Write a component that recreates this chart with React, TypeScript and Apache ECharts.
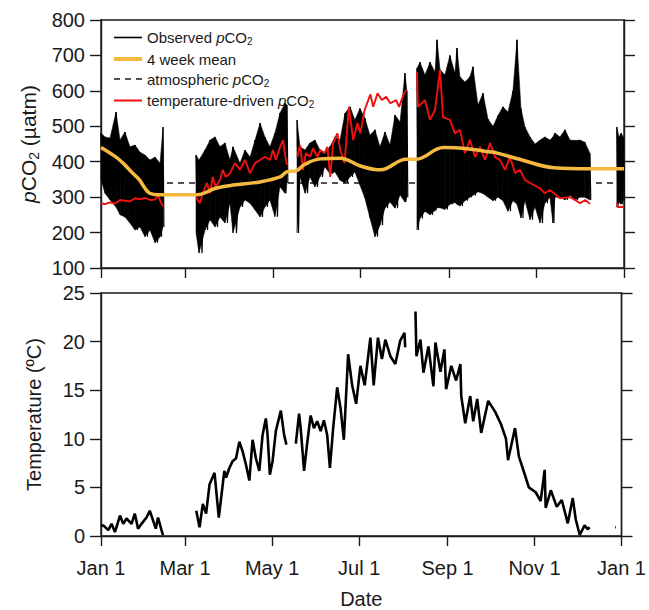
import React, { useEffect, useRef } from 'react';
import * as echarts from 'echarts';

// x axis: day of year
const tickDays = [0, 59, 120, 181, 243, 304, 365];
const tickLabels = ['Jan 1', 'Mar 1', 'May 1', 'Jul 1', 'Sep 1', 'Nov 1', 'Jan 1'];

// observed pCO2 envelope (high / low of the fluctuations), null = no data
const obsDay = [0, 2.8, 6.3, 10.5, 13.3, 16.7, 20.2, 23.7, 27.2, 30.7, 34.2, 37.7, 41.2, 43.3,
  55,
  66.3, 68.4, 72.6, 76.1, 79.6, 83, 86.5, 90, 92.1, 97, 100.5, 104, 107.5, 111, 114.4, 117.9, 121.4, 124.9, 128.4, 129.8,
  133,
  136.8, 138.9, 142.4, 145.8, 149.3, 152.8, 156.3, 159.8, 163.3, 166.8, 170.3, 173.8, 177.2, 180.7, 184.2, 187.7, 191.2, 194.7, 198.2, 201.7, 205.2, 208.7, 212.1, 213.5,
  217,
  220.5, 222.6, 226.1, 229.6, 233.1, 234.5, 236.6, 240, 243.5, 247, 248.4, 250.5, 254, 257.5, 259.6, 263.1, 266.6, 270.1, 273.6, 277, 280.5, 284, 287.5, 290.3, 293.1, 295.9, 299.4, 302.9, 306.4, 309.8, 313.3, 315.4, 316.8, 320.3, 323.8, 327.3, 330.8, 334.3, 337.7, 341.2,
  350,
  360, 361.5, 363, 364.5];
const obsHigh = [481, 470, 467, 540, 461, 484, 442, 447, 427, 419, 405, 413, 396, 498,
  null,
  419, 405, 433, 461, 470, 442, 453, 405, 442, 396, 433, 413, 461, 509, 470, 442, 481, 537, 565, 560,
  null,
  518, 442, 433, 453, 461, 433, 424, 442, 470, 461, 537, 555, 518, 550, 523, 475, 490, 442, 484, 447, 532, 512, 650, 600,
  null,
  664, 681, 645, 681, 653, 744, 660, 645, 700, 650, 721, 640, 625, 640, 668, 560, 593, 520, 500, 530, 555, 540, 600, 744, 550, 498, 470, 450, 461, 470, 461, 470, 481, 470, 490, 461, 460, 461, 455, 424,
  null,
  498, 470, 480, 470];
const obsLow = [350, 311, 292, 272, 250, 244, 227, 207, 216, 188, 207, 171, 188, 216,
  null,
  199, 142, 207, 236, 216, 244, 227, 283, 199, 272, 292, 283, 264, 244, 272, 292, 245, 329, 311, 340,
  null,
  199, 357, 311, 357, 329, 357, 385, 366, 371, 348, 340, 357, 371, 334, 297, 241, 188, 221, 269, 286, 269, 306, 286, 300,
  null,
  207, 240, 260, 250, 262, 270, 270, 265, 280, 285, 280, 275, 290, 300, 305, 315, 310, 300, 290, 300, 290, 260, 290, 280, 241, 290, 236, 272, 227, 283, 300, 227, 300, 300, 292, 305, 292, 300, 300, 292,
  null,
  272, 285, 280, 290];

// 4 week mean
const meanDay = [0, 10.5, 15.4, 22, 27, 30, 34, 40, 55, 67, 80, 92, 111, 125, 130, 136, 142, 153, 167, 181, 195, 213, 220, 239, 257, 271, 276, 292, 316, 341, 365];
const meanVal = [440, 413, 396, 368, 348, 329, 311, 307, 307, 307, 325, 334, 343, 357, 372, 374, 392, 408, 410, 388, 377, 407, 407, 440, 436, 428, 425, 407, 383, 380, 380];

// atmospheric pCO2
const atmDay = [0, 365];
const atmVal = [340, 340];

// temperature-driven pCO2
const redDay = [0, 2.8, 6.3, 9.8, 13.3, 16.7, 20.2, 23.7, 27.2, 30.7, 34.2, 37.7, 39.8, 41.2, 43.3,
  55,
  66.3, 69, 71, 74, 76, 78, 80, 83, 85, 87, 90, 93.5, 97, 100.5, 104, 107.5, 111, 114.4, 118, 120, 122, 125, 127, 129, 130,
  133,
  137, 139, 141, 143, 146, 148, 151, 153, 156, 158, 160, 162, 165, 167, 170, 173, 176, 179, 181, 184, 188, 190, 193, 196, 199, 202, 206, 208, 211, 213,
  217,
  220.5, 221.2, 226.1, 229.6, 233.1, 236.6, 238.7, 243.5, 247, 250.5, 254, 257.5, 261, 264.5, 268, 271.5, 275, 278.4, 282, 285.4, 289, 292.4, 296, 299.4, 306.4, 309.8, 313.3, 320.3, 327.3, 330.8, 334.3, 338, 341.2,
  350,
  360, 360.5, 364.5];
const redVal = [283, 280, 285, 282, 292, 290, 288, 297, 294, 298, 292, 293, 306, 290, 274,
  null,
  300, 283, 311, 340, 311, 357, 329, 348, 377, 357, 367, 396, 377, 405, 367, 396, 405, 414, 405, 433, 405, 442, 461, 405, 391,
  null,
  414, 447, 377, 424, 414, 438, 414, 433, 424, 442, 357, 453, 480, 433, 396, 555, 461, 509, 480, 546, 590, 555, 593, 574, 583, 565, 574, 555, 588, 602,
  null,
  653, 555, 574, 518, 546, 659, 526, 518, 480, 490, 424, 462, 413, 442, 405, 453, 413, 405, 377, 413, 368, 377, 348, 340, 325, 311, 320, 297, 300, 292, 283, 292, 281,
  null,
  285, 272, 272];

// water temperature
const tempDay = [0, 1.6, 5.1, 7.4, 9.8, 13.3, 15.6, 17.9, 21.4, 23.7, 26, 28.4, 31.9, 34.2, 36.5, 38.4, 40, 42.4, 43.5,
  55,
  66.8, 69.1, 71.4, 73.7, 76.1, 79.6, 82.6, 86.5, 87.7, 90, 92.3, 94.7, 97, 99.3, 101.7, 104, 106.3, 108.6, 111, 113.3, 115.6, 116.8, 118.4, 120.3, 122.6, 126.1, 128.4, 130,
  133,
  136.6, 138.9, 140, 142.4, 144.7, 147, 149.3, 151.6, 154, 156.3, 158.6, 160.5, 162.8, 165.6, 168, 170.3, 173.3, 176.1, 178.9, 181.9, 184.9, 188.9, 191.2, 194.2, 197, 199.4, 202.9, 206.4, 209.8, 212.8, 213.3,
  217,
  220.5, 221.2, 224, 226.1, 229.6, 233.1, 234.5, 238, 240.8, 242, 245.6, 249, 252, 252.6, 255.4, 258.9, 261, 263.8, 266.6, 271.5, 276.3, 280.5, 284, 285.4, 290.3, 293, 297.2, 300, 304.8, 308.3, 311.1, 311.8, 315.4, 319.6, 323.1, 327.3, 330.8, 332.9, 335.7, 339.1, 341.2, 342.6,
  350,
  360.5, 361];
const tempVal = [1.0, 1.1, 0.6, 1.25, 0.4, 2.1, 1.25, 1.8, 1.25, 2.3, 0.75, 1.25, 1.9, 2.6, 1.6, 0.75, 1.9, 0.6, 0.1,
  null,
  2.6, 0.9, 3.3, 2.3, 5.3, 6.5, 1.9, 6.7, 6.0, 7.0, 7.7, 8.0, 9.7, 8.7, 7.3, 5.7, 9.9, 8.0, 6.7, 10.4, 12.1, 10.4, 6.3, 7.7, 10.8, 12.9, 10.4, 9.4,
  null,
  9.5, 12.6, 11.1, 6.7, 9.7, 12.4, 11.1, 11.8, 10.8, 11.9, 10.4, 7.0, 11.1, 15.3, 13.1, 9.9, 18.7, 15.5, 13.6, 17.5, 15.5, 20.4, 15.5, 20.4, 18.2, 20.2, 18.5, 17.7, 20.1, 20.9, 19.4,
  null,
  23.1, 18.5, 20.2, 16.8, 19.5, 15.4, 19.9, 16.9, 19.2, 15.1, 17.5, 16.0, 17.7, 14.4, 11.6, 14.4, 11.8, 14.1, 10.6, 13.9, 12.8, 11.5, 10.0, 7.8, 11.1, 8.2, 6.3, 5.0, 4.5, 3.6, 6.8, 2.9, 4.7, 3.0, 3.7, 1.3, 3.9, 1.7, 0.1, 1.1, 0.7, 0.9,
  null,
  0.9, 0.9];

const FONT = '"Liberation Sans", Arial, sans-serif';
const INK = '#1a1a1a';
const ORANGE = '#F6B940';

const pair = (days: (number | null)[], vals: (number | null)[]) =>
  days.map((d, i) => [d, vals[i] == null ? null : vals[i]]);

const legendText: Record<string, string> = {
  obs: '{n|Observed }{i|p}{n|CO}{s|2}',
  mean: '{n|4 week mean}',
  atm: '{n|atmospheric }{i|p}{n|CO}{s|2}',
  temp: '{n|temperature-driven }{i|p}{n|CO}{s|2}',
};

export default function App() {
  const ref = useRef<HTMLDivElement>(null);
  useEffect(() => {
    if (!ref.current) return;
    const chart = echarts.init(ref.current, undefined, { renderer: 'svg' });

    // zigzag through the observed envelope
    const zig: any[] = [];
    const band: number[][] = [];
    for (let i = 0; i < obsDay.length; i++) {
      const d = obsDay[i] as number;
      const h = obsHigh[i];
      const l = obsLow[i];
      if (h == null || l == null) {
        zig.push([d, null]);
        continue;
      }
      const nh = obsHigh[i + 1];
      const nd = obsDay[i + 1];
      const valid = nh != null && nd != null && i + 1 < obsDay.length;
      zig.push([d, h]);
      zig.push([valid ? d + ((nd as number) - d) / 2 : d + 0.6, l]);
      if (valid) {
        band.push([d, h, l, nd as number, nh as number, obsLow[i + 1] as number]);
      }
    }

    const axisLineStyle = { color: INK, width: 1.4 };
    const labelStyle = { color: INK, fontSize: 20, fontFamily: FONT };

    const yBase = (gridIndex: number, min: number, max: number, interval: number, right: boolean) => ({
      type: 'value',
      gridIndex,
      min,
      max,
      interval,
      position: right ? 'right' : 'left',
      axisLine: { show: true, lineStyle: axisLineStyle },
      axisTick: { show: true, inside: false, length: 11, lineStyle: axisLineStyle },
      axisLabel: right ? { show: false } : { ...labelStyle, margin: 16 },
      splitLine: { show: false },
    });

    const xBase = (gridIndex: number, labels: boolean) => ({
      type: 'value',
      gridIndex,
      min: 0,
      max: 365,
      position: 'bottom',
      axisLine: { show: true, lineStyle: axisLineStyle },
      axisTick: { show: true, inside: false, length: 10, lineStyle: axisLineStyle, customValues: tickDays },
      axisLabel: labels
        ? {
            ...labelStyle,
            margin: 22,
            customValues: tickDays,
            formatter: (v: number) => {
              const k = tickDays.indexOf(Math.round(v));
              return k >= 0 ? tickLabels[k] : '';
            },
          }
        : { show: false },
      splitLine: { show: false },
    });

    const option: any = {
      animation: false,
      backgroundColor: '#fff',
      textStyle: { fontFamily: FONT },
      grid: [
        { left: 101, top: 20, width: 523, height: 248, show: true, borderColor: INK, borderWidth: 1.4, backgroundColor: 'transparent' },
        { left: 101, top: 293, width: 523, height: 246, show: true, borderColor: INK, borderWidth: 1.4, backgroundColor: 'transparent' },
      ],
      legend: {
        orient: 'vertical',
        left: 107,
        top: 25,
        itemWidth: 28,
        itemHeight: 14,
        itemGap: 5,
        data: [
          { name: 'obs', lineStyle: { width: 1.6 } },
          { name: 'mean', lineStyle: { width: 4, color: ORANGE } },
          { name: 'atm', lineStyle: { width: 1.6 } },
          { name: 'temp', lineStyle: { width: 2 } },
        ],
        itemStyle: { opacity: 0 },
        formatter: (name: string) => legendText[name],
        textStyle: {
          color: INK,
          fontFamily: FONT,
          fontSize: 15,
          rich: {
            n: { fontSize: 15, color: INK, fontFamily: FONT, lineHeight: 18 },
            i: { fontSize: 15, color: INK, fontFamily: FONT, fontStyle: 'italic', lineHeight: 18 },
            s: { fontSize: 10, color: INK, fontFamily: FONT, lineHeight: 10, verticalAlign: 'bottom' },
          },
        },
      },
      xAxis: [
        xBase(0, false),
        { ...xBase(1, true), name: 'Date', nameLocation: 'middle', nameGap: 53, nameTextStyle: { ...labelStyle } },
      ],
      yAxis: [
        {
          ...yBase(0, 100, 800, 100, false),
          name: '{i|p}{n|CO}{s|2}{n| (µatm)}',
          nameLocation: 'middle',
          nameGap: 58,
          nameTextStyle: {
            fontSize: 21,
            fontFamily: FONT,
            color: INK,
            rich: {
              n: { fontSize: 21, color: INK, fontFamily: FONT, lineHeight: 24 },
              i: { fontSize: 21, color: INK, fontFamily: FONT, fontStyle: 'italic', lineHeight: 24 },
              s: { fontSize: 14, color: INK, fontFamily: FONT, lineHeight: 14, verticalAlign: 'bottom' },
            },
          },
        },
        yBase(0, 100, 800, 100, true),
        {
          ...yBase(1, 0, 25, 5, false),
          name: 'Temperature (ºC)',
          nameLocation: 'middle',
          nameGap: 57,
          nameTextStyle: { ...labelStyle },
        },
        yBase(1, 0, 25, 5, true),
      ],
      series: [
        {
          name: 'atm',
          type: 'line',
          xAxisIndex: 0,
          yAxisIndex: 0,
          data: pair(atmDay, atmVal),
          symbol: 'none',
          lineStyle: { color: INK, width: 1.4, type: [6, 5] },
          itemStyle: { color: INK },
          z: 1,
        },
        {
          name: 'obsBand',
          type: 'custom',
          xAxisIndex: 0,
          yAxisIndex: 0,
          data: band,
          encode: { x: [0, 3], y: [1, 2, 4, 5] },
          renderItem: (_p: any, api: any) => {
            const a = api.coord([api.value(0), api.value(1)]);
            const b = api.coord([api.value(3), api.value(4)]);
            const c = api.coord([api.value(3), api.value(5)]);
            const e = api.coord([api.value(0), api.value(2)]);
            return {
              type: 'polygon',
              shape: { points: [a, b, c, e] },
              style: { fill: '#000', stroke: '#000', lineWidth: 0.5 },
            };
          },
          silent: true,
          z: 2,
        },
        {
          name: 'obs',
          type: 'line',
          xAxisIndex: 0,
          yAxisIndex: 0,
          data: zig,
          symbol: 'none',
          connectNulls: false,
          lineStyle: { color: '#000', width: 1.2 },
          itemStyle: { color: '#000' },
          z: 3,
        },
        {
          name: 'temp',
          type: 'line',
          xAxisIndex: 0,
          yAxisIndex: 0,
          data: pair(redDay, redVal),
          symbol: 'none',
          connectNulls: false,
          lineStyle: { color: '#F01010', width: 1.9 },
          itemStyle: { color: '#F01010' },
          z: 4,
        },
        {
          name: 'mean',
          type: 'line',
          xAxisIndex: 0,
          yAxisIndex: 0,
          data: pair(meanDay, meanVal),
          symbol: 'none',
          smooth: 0.4,
          lineStyle: { color: ORANGE, width: 3.5 },
          itemStyle: { color: ORANGE },
          z: 5,
        },
        {
          name: 'Temperature',
          type: 'line',
          xAxisIndex: 1,
          yAxisIndex: 2,
          data: pair(tempDay, tempVal),
          symbol: 'none',
          connectNulls: false,
          lineStyle: { color: '#000', width: 2.6 },
          itemStyle: { color: '#000' },
          z: 3,
        },
      ],
    };
    chart.setOption(option);
    return () => chart.dispose();
  }, []);

  return (
    <div
      ref={ref}
      style={{ position: 'fixed', left: 0, top: 0, width: 649, height: 610, background: '#fff' }}
    />
  );
}
